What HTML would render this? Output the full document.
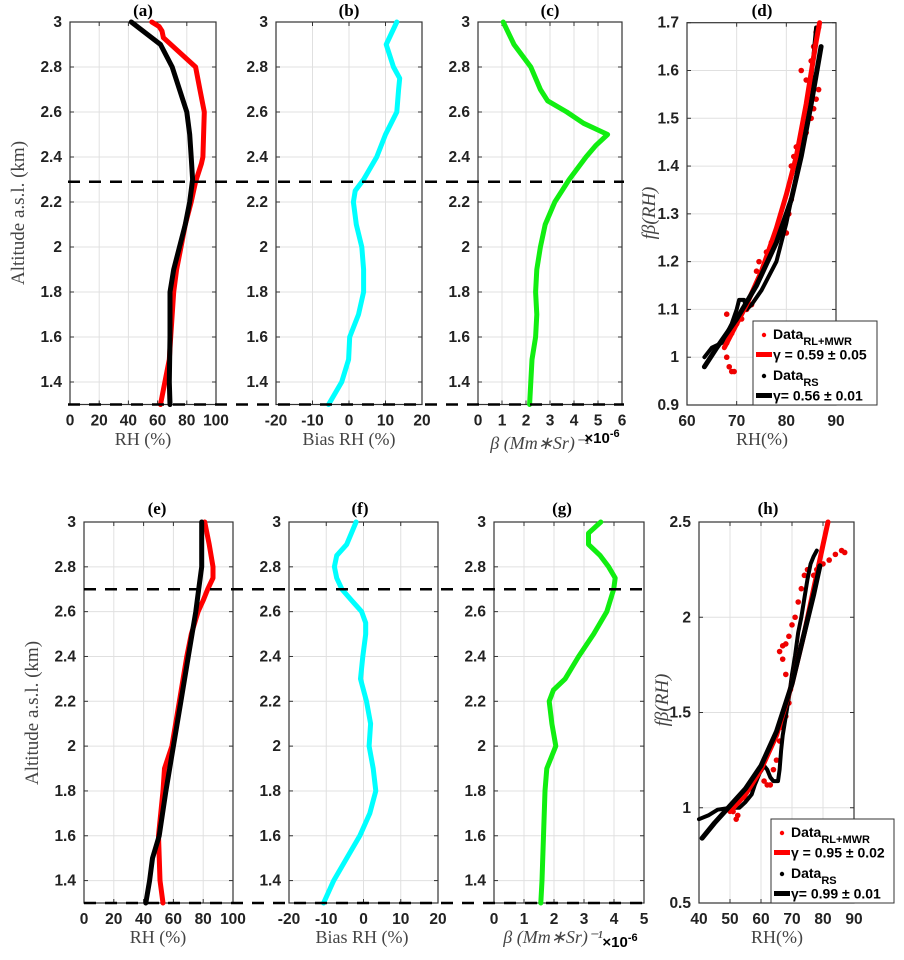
<!DOCTYPE html>
<html><head><meta charset="utf-8"><style>
body{margin:0;background:#fff;}
svg text{font-family:"Liberation Sans",Arial,sans-serif;}
.tk{font-weight:bold;font-size:15.5px;fill:#222;}
.ser{font-family:"Liberation Serif",serif !important;}
</style></head><body>
<svg id="fig" width="904" height="955" xmlns="http://www.w3.org/2000/svg"></svg>
<script>
// ---- data (altitude km, values) ----
const altA_red=[3.0,2.98,2.96,2.93,2.8,2.7,2.6,2.4,2.37,2.29,2.2,2.1,2.0,1.9,1.8,1.6,1.5,1.4,1.3];
const rhA_red=[56,61,63,64,86,89,92,91,90,86,83,79,76,73,71,69,68,65,62];
const altA_blk=[3.0,2.9,2.8,2.7,2.6,2.5,2.4,2.3,2.2,2.1,2.0,1.9,1.8,1.6,1.4,1.3];
const rhA_blk=[42,62,70,75,80,82,83,84,82,79,75,71,68.5,68.5,68,68.5];
const altB=[3.0,2.9,2.8,2.75,2.7,2.6,2.5,2.4,2.3,2.25,2.2,2.1,2.0,1.9,1.8,1.7,1.6,1.5,1.4,1.3];
const biasB=[13.1,10.2,12.2,13.9,13.6,13.1,10,7.6,4,1.7,1.2,2,3.5,4,4,2.6,0.2,-0.1,-2,-5.6];
const altC=[3.0,2.9,2.8,2.7,2.65,2.6,2.55,2.5,2.45,2.4,2.3,2.2,2.1,2.0,1.9,1.8,1.7,1.6,1.5,1.4,1.3];
const betaC=[1.05,1.5,2.2,2.6,2.9,3.7,4.4,5.4,4.9,4.5,3.8,3.2,2.8,2.6,2.45,2.4,2.45,2.4,2.25,2.2,2.15];
const dRedFitX=[67.5,70,72,75,78,80,82,84,86,86.7];
const dRedFitY=[1.02,1.07,1.11,1.18,1.27,1.34,1.42,1.53,1.66,1.70];
const dBlkFitX=[63.5,66,70,74,78,81,83,85,87];
const dBlkFitY=[0.98,1.02,1.08,1.15,1.24,1.33,1.42,1.53,1.65];
const dBlkDatX=[63.5,65,67,69,70,70.5,71.5,72,73,75,78,80,82,84,85,86];
const dBlkDatY=[1.0,1.02,1.03,1.07,1.1,1.12,1.12,1.1,1.11,1.14,1.2,1.28,1.38,1.5,1.58,1.69];
const dRedDatX=[68,68.5,69,69.5,68,69,70,70.5,71,68,72,73,74,74.5,76,77,78,79,80,80.5,81,81,81.5,82,83,84,85,85.5,86,86.5,83,84,85,85.5,86,86.5];
const dRedDatY=[1.0,0.98,0.97,0.97,1.03,1.05,1.07,1.09,1.08,1.09,1.10,1.11,1.18,1.2,1.22,1.24,1.26,1.27,1.26,1.3,1.33,1.4,1.42,1.44,1.45,1.47,1.5,1.52,1.54,1.56,1.60,1.58,1.62,1.65,1.68,1.69];
const altE_red=[3.0,2.9,2.8,2.75,2.7,2.65,2.6,2.5,2.4,2.2,2.0,1.9,1.8,1.6,1.4,1.3];
const rhE_red=[81,84,86.6,86.6,83,80,76.6,72,69,64,59,54,53,50,51,53];
const altE_blk=[3.0,2.8,2.7,2.6,2.4,2.2,2.0,1.8,1.6,1.5,1.4,1.3];
const rhE_blk=[79,79,77,75,70,65,60,55,50.5,46,44,41.5];
const altF=[3.0,2.9,2.85,2.8,2.75,2.7,2.65,2.6,2.55,2.5,2.4,2.3,2.2,2.1,2.0,1.9,1.8,1.7,1.6,1.5,1.4,1.3];
const biasF=[-2,-4.5,-7.2,-7.8,-7.2,-5.8,-3.2,-0.5,0.6,0.6,-0.2,-0.8,0.8,1.9,1.5,2.6,3.3,1.7,-1,-4.5,-8,-10.7];
const altG=[3.0,2.95,2.9,2.85,2.8,2.75,2.7,2.6,2.5,2.4,2.3,2.25,2.2,2.1,2.0,1.9,1.8,1.6,1.4,1.3];
const betaG=[3.56,3.15,3.15,3.54,3.82,4.04,3.99,3.76,3.32,2.82,2.37,1.98,1.84,1.93,2.06,1.76,1.70,1.65,1.6,1.56];
const hRedFitX=[50,55,60,65,70,74,77,80,81.6];
const hRedFitY=[0.98,1.07,1.2,1.38,1.65,1.92,2.15,2.38,2.5];
const hBlkFitX=[41,45,50,55,60,65,70,74,77,79];
const hBlkFitY=[0.84,0.92,1.01,1.1,1.22,1.4,1.65,1.92,2.12,2.27];
const hBlkDatX=[40,43,46,50,53,55,57,58,59.5,61,62,63,64,65.5,66,66.5,67,68,69,70,71,72,73,74,75,76,77,78];
const hBlkDatY=[0.94,0.96,0.99,1.0,1.0,1.03,1.07,1.12,1.18,1.22,1.2,1.16,1.14,1.14,1.2,1.3,1.38,1.48,1.58,1.7,1.8,1.92,2.0,2.1,2.2,2.28,2.32,2.35];
const hRedDatX=[52,52.5,51,55,57,58,59,60,61,62,63,64,65,66,67,68,69,69.5,68,67,66,67,68,69,70,71,72,73,74,75,77,78,80,82,84,86,87];
const hRedDatY=[0.94,0.96,0.98,1.05,1.1,1.15,1.18,1.2,1.14,1.12,1.12,1.2,1.25,1.35,1.42,1.48,1.55,1.62,1.7,1.78,1.82,1.85,1.86,1.9,1.96,2.0,2.08,2.15,2.22,2.25,2.22,2.25,2.28,2.3,2.33,2.35,2.34];
const altTicks=[3,2.8,2.6,2.4,2.2,2,1.8,1.6,1.4];
const altTickLbl=['3','2.8','2.6','2.4','2.2','2','1.8','1.6','1.4'];

const NS='http://www.w3.org/2000/svg';
const svg=document.getElementById('fig');
function el(tag,attrs,parent){const e=document.createElementNS(NS,tag);for(const k in attrs)e.setAttribute(k,attrs[k]);(parent||svg).appendChild(e);return e;}
function txt(x,y,s,cls,anchor,parent){const t=el('text',{x:x,y:y,'text-anchor':anchor||'middle'},parent);if(cls)t.setAttribute('class',cls);t.textContent=s;return t;}

function makeAxes(name,L,R,T,B,xmin,xmax,ymin,ymax,xt,xtl,yt,ytl){
  const g=el('g',{});
  
  
  const sx=v=>L+(v-xmin)/(xmax-xmin)*(R-L);
  const sy=v=>B-(v-ymin)/(ymax-ymin)*(B-T);
  xt.forEach((v,i)=>{const x=sx(v);
    if(x>L+1&&x<R-1)el('line',{x1:x,x2:x,y1:T,y2:B,stroke:'#e0e0e0','stroke-width':1},g);
    el('line',{x1:x,x2:x,y1:B,y2:B-4,stroke:'#333'},g);el('line',{x1:x,x2:x,y1:T,y2:T+4,stroke:'#333'},g);
    const t=txt(x,B+21,xtl[i],'tk','middle',g);});
  yt.forEach((v,i)=>{const y=sy(v);
    if(y>T+1&&y<B-1)el('line',{x1:L,x2:R,y1:y,y2:y,stroke:'#e0e0e0','stroke-width':1},g);
    el('line',{x1:L,x2:L+4,y1:y,y2:y,stroke:'#333'},g);el('line',{x1:R,x2:R-4,y1:y,y2:y,stroke:'#333'},g);
    const t=txt(L-8,y+5,ytl[i],'tk','end',g);});
  el('rect',{x:L,y:T,width:R-L,height:B-T,fill:'none',stroke:'#333','stroke-width':1.2},g);
  return {sx,sy,g};
}
function line(ax,xs,ys,color,w,name){
  const p=xs.map((v,i)=>ax.sx(v).toFixed(1)+','+ax.sy(ys[i]).toFixed(1)).join(' ');
  const e=el('polyline',{points:p,fill:'none',stroke:color,'stroke-width':w,'stroke-linejoin':'round','stroke-linecap':'round'});
  
  
}
function profile(ax,alts,vals,color,name){line(ax,vals,alts,color,5,name);}
function dots(ax,xs,ys,color,name){
  const g=el('g',{});
  
  
  xs.forEach((v,i)=>el('circle',{cx:ax.sx(v),cy:ax.sy(ys[i]),r:2.8,fill:color},g));
}
function title(x,y,s){const t=txt(x,y,s,'ser','middle');t.setAttribute('font-weight','bold');t.setAttribute('font-size','17');}
function xlabel(x,y,s){const t=txt(x,y,s,'ser','middle');t.setAttribute('font-size','18');t.setAttribute('fill','#444');return t;}
function ylabel(x,y,s,italic){const t=txt(0,0,s,'ser','middle');t.setAttribute('font-size','19');t.setAttribute('fill','#444');if(italic)t.setAttribute('font-style','italic');t.setAttribute('transform','translate('+x+','+y+') rotate(-90)');return t;}
function dash(x1,x2,y){const e=el('line',{x1:x1,x2:x2,y1:y,y2:y,stroke:'#000','stroke-width':2.5,'stroke-dasharray':'12,9'});}
function legend(x,y,w,h,vals){
  const g=el('g',{});
  
  
  el('rect',{x:x,y:y,width:w,height:h,fill:'#fff',stroke:'#333'},g);
  const rows=[[ 'red','dot','Data','RL+MWR'],['red','line','γ = '+vals[0],''],['black','dot','Data','RS'],['black','line','γ= '+vals[1],'']];
  rows.forEach((r,i)=>{const cy=y+10+i*20.5;
    if(r[1]=='dot')el('circle',{cx:x+11,cy:cy+4,r:2.2,fill:r[0]},g);
    else el('line',{x1:x+3,x2:x+19,y1:cy+3,y2:cy+3,stroke:r[0],'stroke-width':5},g);
    const t=txt(x+20,cy+8,'','','start',g);t.setAttribute('font-weight','bold');t.setAttribute('font-size','14');
    
    if(r[1]=='dot'){t.textContent=r[2];const s=el('tspan',{dy:6,'font-size':'11'},t);s.textContent=r[3];}
    else t.textContent=r[2];
  });
}

// ---------- top row ----------
const a=makeAxes('panel-a',70,216,22,404.5,0,100,1.3,3,[0,20,40,60,80,100],['0','20','40','60','80','100'],altTicks,altTickLbl);
profile(a,altA_red,rhA_red,'#ff0000','rh-lidar-line-a');
profile(a,altA_blk,rhA_blk,'#000','rh-radiosonde-line-a');
title(143,16,'(a)');xlabel(143,445,'RH (%)');
const b=makeAxes('panel-b',276,422,22,404.5,-20,20,1.3,3,[-20,-10,0,10,20],['-20','-10','0','10','20'],altTicks,altTickLbl);
profile(b,altB,biasB,'#00ffff','bias-line-b');
title(349,16,'(b)');xlabel(349,445,'Bias RH (%)');
const c=makeAxes('panel-c',478,622,22,404.5,0,6,1.3,3,[0,1,2,3,4,5,6],['0','1','2','3','4','5','6'],altTicks,altTickLbl);
profile(c,altC,betaC,'#11ee11','backscatter-line-c');
title(550,16,'(c)');
{const t=xlabel(540,449,'β (Mm∗Sr)⁻¹');t.setAttribute('font-style','italic');
 const e=txt(602,443,'×10','','middle');e.setAttribute('font-weight','bold');e.setAttribute('font-size','15');const s=el('tspan',{dy:-6,'font-size':'11'},e);s.textContent='-6';}
ylabel(24,213,'Altitude a.s.l. (km)');
dash(68,624,a.sy(2.29));dash(68,624,a.sy(1.3));
const d=makeAxes('panel-d',687,836,22.7,405,60,90,0.9,1.7,[60,70,80,90],['60','70','80','90'],[0.9,1,1.1,1.2,1.3,1.4,1.5,1.6,1.7],['0.9','1','1.1','1.2','1.3','1.4','1.5','1.6','1.7']);
dots(d,dRedDatX,dRedDatY,'#ee0000','rl-mwr-data-points-d');
line(d,dBlkDatX,dBlkDatY,'#000',4,'rs-data-points-d');
line(d,dRedFitX,dRedFitY,'#ff0000',5,'rl-mwr-fit-line-d');
line(d,dBlkFitX,dBlkFitY,'#000',5,'rs-fit-line-d');
legend(753,321,124,84,['0.59 ± 0.05','0.56 ± 0.01']);
title(762,16,'(d)');xlabel(762,445,'RH(%)');ylabel(655,213,'f\u03B2(RH)',true);

// ---------- bottom row ----------
const e=makeAxes('panel-e',84,233,522,903,0,100,1.3,3,[0,20,40,60,80,100],['0','20','40','60','80','100'],altTicks,altTickLbl);
profile(e,altE_red,rhE_red,'#ff0000','rh-lidar-line-e');
profile(e,altE_blk,rhE_blk,'#000','rh-radiosonde-line-e');
title(157,514,'(e)');xlabel(158,943,'RH (%)');
const f=makeAxes('panel-f',289,438,522,903,-20,20,1.3,3,[-20,-10,0,10,20],['-20','-10','0','10','20'],altTicks,altTickLbl);
profile(f,altF,biasF,'#00ffff','bias-line-f');
title(360,514,'(f)');xlabel(362,943,'Bias RH (%)');
const g=makeAxes('panel-g',494,644,522,903,0,5,1.3,3,[0,1,2,3,4,5],['0','1','2','3','4','5'],altTicks,altTickLbl);
profile(g,altG,betaG,'#11ee11','backscatter-line-g');
title(562,514,'(g)');
{const t=xlabel(553,943,'β (Mm∗Sr)⁻¹');t.setAttribute('font-style','italic');
 const x=txt(620,947,'×10','','middle');x.setAttribute('font-weight','bold');x.setAttribute('font-size','15');const s=el('tspan',{dy:-6,'font-size':'11'},x);s.textContent='-6';}
ylabel(38,713,'Altitude a.s.l. (km)');
dash(84,646,e.sy(2.7));dash(84,646,e.sy(1.3));
const h=makeAxes('panel-h',699,854,522,903,40,90,0.5,2.5,[40,50,60,70,80,90],['40','50','60','70','80','90'],[0.5,1,1.5,2,2.5],['0.5','1','1.5','2','2.5']);
dots(h,hRedDatX,hRedDatY,'#ee0000','rl-mwr-data-points-h');
line(h,hBlkDatX,hBlkDatY,'#000',4,'rs-data-points-h');
line(h,hRedFitX,hRedFitY,'#ff0000',5,'rl-mwr-fit-line-h');
line(h,hBlkFitX,hBlkFitY,'#000',5,'rs-fit-line-h');
legend(771,819,123,84,['0.95 ± 0.02','0.99 ± 0.01']);
title(768,514,'(h)');xlabel(777,943,'RH(%)');ylabel(668,700,'f\u03B2(RH)',true);
</script>
</body></html>
